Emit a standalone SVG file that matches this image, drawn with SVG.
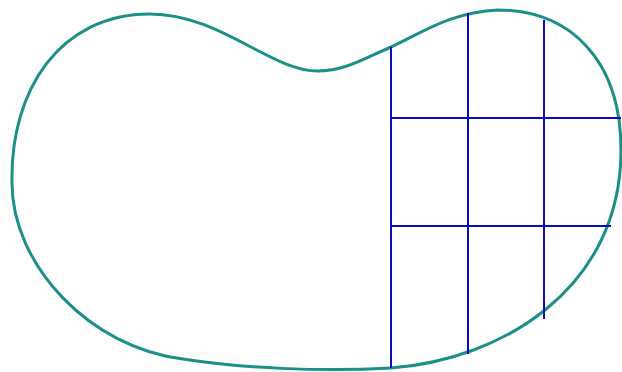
<svg xmlns="http://www.w3.org/2000/svg" width="622" height="372" viewBox="0 0 622 372">
<style>
.outline{fill:none;stroke:#1a9088;stroke-width:3;stroke-linejoin:round}
.grid line{stroke:#0a0ac0;stroke-width:2}
</style>
<rect width="622" height="372" fill="#ffffff"/>
<g id="outline">
<path class="outline" d="M12,183 C10,90 60,14 150,14 C220,14 270,71 318,71 C345,71 365,58 391,47 C420,34 450,12 498,10 C570,10 621,60 621,150 C621,290 500,360 391,368 C320,372 240,368 183,359 C90,348 12,265 12,183 Z"/>
</g>
<g id="grid" class="grid">
<line x1="391" y1="47" x2="391" y2="368"/>
<line x1="468" y1="13" x2="468" y2="354"/>
<line x1="544" y1="20" x2="544" y2="319"/>
<line x1="391" y1="118" x2="621" y2="118"/>
<line x1="391" y1="226" x2="611" y2="226"/>
</g>
</svg>
